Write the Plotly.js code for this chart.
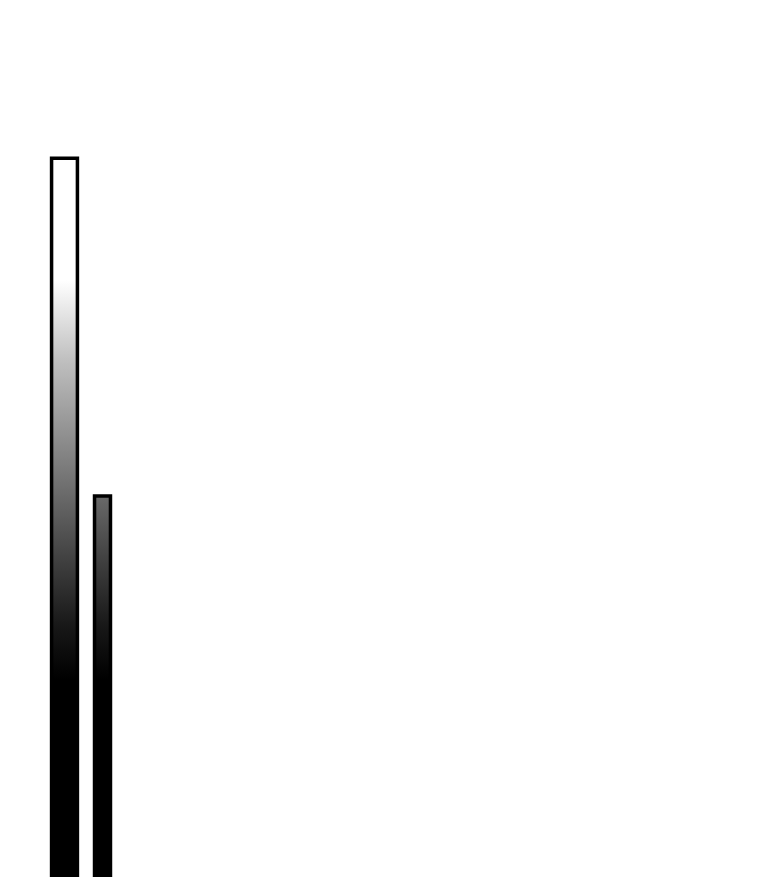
<!DOCTYPE html>
<html>
<head>
<meta charset="utf-8">
<script src="https://cdn.plot.ly/plotly-3.0.1.min.js"></script>
<style>
  html, body { margin: 0; padding: 0; background: #fff; }
  #chart { width: 760px; height: 877px; }
</style>
</head>
<body>
<div id="chart"></div>
<script>
// bar data
const positions = [1, 2];
const values = [100, 53];

// bar widths in x units (tall bar is wider)
const BAR_WIDTHS = [0.68, 0.42];

/**
 * Turn each bar into a closed rectangle, segments split by null so
 * fill "toself" fills every bar on its own.
 */
function barOutlines(xs, ys, widths) {
  const x = [];
  const y = [];
  xs.forEach((cx, i) => {
    const half = widths[i] / 2;
    x.push(cx - half, cx - half, cx + half, cx + half, cx - half, null);
    y.push(0, ys[i], ys[i], 0, 0, null);
  });
  return { x, y };
}

const outline = barOutlines(positions, values, BAR_WIDTHS);

const trace = {
  x: outline.x,
  y: outline.y,
  mode: "lines",
  fill: "toself",
  connectgaps: false,
  line: { color: "#000", width: 3.5 },
  fillgradient: {
    type: "vertical",
    start: 0,
    stop: 100,
    // black at the base, fading to white near the top
    colorscale: [
      [0, "#000"],
      [0.275, "#000"],
      [0.35, "#181818"],
      [0.44, "#404040"],
      [0.58, "#808080"],
      [0.72, "#c0c0c0"],
      [0.83, "#fff"],
      [1, "#fff"],
    ],
  },
  hoverinfo: "skip",
  showlegend: false,
};

const layout = {
  width: 760,
  height: 877,
  margin: { l: 0, r: 0, t: 0, b: 0 },
  paper_bgcolor: "#fff",
  plot_bgcolor: "#fff",
  xaxis: { range: [-0.697, 19.3], visible: false, fixedrange: true },
  yaxis: { range: [0, 122], visible: false, fixedrange: true },
  showlegend: false,
};

Plotly.newPlot("chart", [trace], layout, { displayModeBar: false, staticPlot: true });
</script>
</body>
</html>
